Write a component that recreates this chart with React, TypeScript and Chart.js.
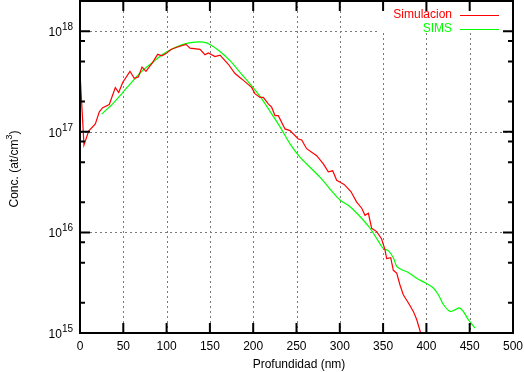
import React, { useEffect, useRef } from "react";
import { Chart, registerables } from "chart.js";

Chart.register(...registerables);

// Simulation profile (red)
const simDepth = [0, 4.6, 10, 17.7, 22.3, 26.2, 33.8, 40.8, 44.7, 49.3, 57.7, 62.7, 67.3, 71.6, 76.2, 83.9, 89.7, 94.7, 99.3, 105, 110.9, 115.5, 122.4, 127, 138.6, 144.3, 148.2, 155.9, 161.7, 171.3, 179, 186.7, 198.2, 202, 207.9, 211.7, 217.4, 221.3, 225.2, 229, 236.7, 242.5, 252.1, 256, 261.7, 273.3, 281, 286.7, 291.8, 296.4, 305, 312.8, 319.5, 325.3, 329.1, 333, 336.8, 342.6, 348.3, 352.2, 354.1, 358.8, 361.8, 365.7, 369.5, 373.3, 379.1, 384.9, 388.8, 393.4, 396];
const simConc = [3.9e17, 7.4e16, 1.02e17, 1.2e17, 1.58e17, 1.74e17, 1.87e17, 2.75e17, 2.46e17, 3.1e17, 4.0e17, 3.4e17, 3.5e17, 4.4e17, 4.0e17, 4.9e17, 5.9e17, 5.7e17, 6.0e17, 6.6e17, 6.9e17, 7.1e17, 7.4e17, 6.8e17, 6.6e17, 5.85e17, 6.1e17, 5.6e17, 5.8e17, 4.7e17, 3.8e17, 3.36e17, 2.77e17, 2.4e17, 2.2e17, 2.2e17, 1.9e17, 1.76e17, 1.45e17, 1.45e17, 1.07e17, 1.03e17, 8.5e16, 8.3e16, 6.8e16, 5.8e16, 4.8e16, 4.0e16, 4.1e16, 3.3e16, 3.0e16, 2.55e16, 2.0e16, 1.74e16, 1.48e16, 1.55e16, 1.1e16, 1.02e16, 8.6e15, 6.7e15, 5.5e15, 5.6e15, 4.2e15, 3.95e15, 3.0e15, 2.4e15, 2.0e15, 1.64e15, 1.36e15, 1.0e15, 8e14];

// SIMS profile (green)
const simsDepth = [25, 37.7, 49.3, 60.8, 72.4, 83.9, 95.5, 107, 121, 132.8, 142.4, 150, 161.7, 173.2, 184.8, 196.3, 207.9, 219.4, 231, 242.5, 254, 265.6, 277.1, 288.7, 300.2, 311.8, 323.3, 334.9, 344.5, 350.3, 356, 361.8, 365.7, 371.5, 379.1, 388.8, 400.3, 408, 413.8, 419.6, 427.3, 433, 438, 442.6, 448.4, 456.1];
const simsConc = [1.5e17, 1.9e17, 2.46e17, 3.2e17, 4.07e17, 4.9e17, 5.9e17, 6.7e17, 7.5e17, 7.8e17, 7.8e17, 7.4e17, 6.3e17, 5.1e17, 3.9e17, 3.0e17, 2.25e17, 1.6e17, 1.12e17, 7.6e16, 5.6e16, 4.45e16, 3.55e16, 2.7e16, 2.1e16, 1.8e16, 1.44e16, 1.1e16, 8.2e15, 6.9e15, 6.6e15, 5.6e15, 4.6e15, 4.25e15, 4.0e15, 3.5e15, 3.1e15, 2.8e15, 2.4e15, 1.92e15, 1.64e15, 1.7e15, 1.78e15, 1.64e15, 1.36e15, 1.12e15];

const xTicks = [0, 50, 100, 150, 200, 250, 300, 350, 400, 450, 500];
const yDecades = [15, 16, 17, 18];
const yMinorMult = [2, 5, 8];
const seriesNames = ["Simulacion", "SIMS"];
const seriesColors = ["#ff0000", "#00ff00"];
const xTitle = "Profundidad (nm)";
const yTitleMain = "Conc. (at/cm";
const yTitleSup = "3";
const yTitleEnd = ")";

const FONT = '"Liberation Sans", Arial, Helvetica, sans-serif';

const framePlugin = {
  id: "gnuplotFrame",
  beforeDatasetsDraw(chart: any) {
    const { ctx, chartArea: a, scales } = chart;
    const xs = scales.x, ys = scales.y;
    const legLeft = 383, legBottom = 33;
    ctx.save();
    ctx.strokeStyle = "#7a7a7a";
    ctx.lineWidth = 1;
    ctx.setLineDash([2, 3]);
    for (const t of xTicks) {
      if (t === xTicks[0] || t === xTicks[xTicks.length - 1]) continue;
      const px = Math.round(xs.getPixelForValue(t)) + 0.5;
      const top = px > legLeft ? legBottom : a.top;
      ctx.beginPath();
      ctx.moveTo(px, top);
      ctx.lineTo(px, a.bottom);
      ctx.stroke();
    }
    for (const d of yDecades) {
      if (d === yDecades[0]) continue;
      const py = Math.round(ys.getPixelForValue(Math.pow(10, d))) + 0.5;
      const right = py < legBottom ? legLeft - 3 : a.right;
      ctx.beginPath();
      ctx.moveTo(a.left, py);
      ctx.lineTo(right, py);
      ctx.stroke();
    }
    ctx.restore();
  },
  afterDatasetsDraw(chart: any) {
    const { ctx, chartArea: a, scales } = chart;
    const xs = scales.x, ys = scales.y;
    ctx.save();
    ctx.setLineDash([]);
    ctx.strokeStyle = "#000";
    ctx.lineWidth = 2;
    ctx.strokeRect(a.left, a.top, a.right - a.left, a.bottom - a.top);

    // x ticks (bottom and top, inward)
    for (const t of xTicks) {
      const px = xs.getPixelForValue(t);
      ctx.beginPath();
      ctx.moveTo(px, a.bottom);
      ctx.lineTo(px, a.bottom - 10);
      ctx.moveTo(px, a.top);
      ctx.lineTo(px, a.top + 10);
      ctx.stroke();
    }
    // y ticks
    for (const d of yDecades) {
      const py = ys.getPixelForValue(Math.pow(10, d));
      ctx.beginPath();
      ctx.moveTo(a.left, py);
      ctx.lineTo(a.left + 10, py);
      ctx.moveTo(a.right, py);
      ctx.lineTo(a.right - 10, py);
      ctx.stroke();
      for (const m of yMinorMult) {
        const v = m * Math.pow(10, d);
        if (v > ys.max) continue;
        const pm = ys.getPixelForValue(v);
        ctx.beginPath();
        ctx.moveTo(a.left, pm);
        ctx.lineTo(a.left + 5, pm);
        ctx.moveTo(a.right, pm);
        ctx.lineTo(a.right - 5, pm);
        ctx.stroke();
      }
    }

    ctx.fillStyle = "#000";
    // x tick labels
    ctx.font = "12px " + FONT;
    ctx.textAlign = "center";
    ctx.textBaseline = "middle";
    for (const t of xTicks) {
      ctx.fillText(String(t), xs.getPixelForValue(t), a.bottom + 14);
    }
    // y tick labels 10^n
    for (const d of yDecades) {
      const py = ys.getPixelForValue(Math.pow(10, d));
      ctx.font = "10px " + FONT;
      const sup = String(d);
      const sw = ctx.measureText(sup).width;
      ctx.font = "12px " + FONT;
      const bw = ctx.measureText("10").width;
      const right = a.left - 7;
      ctx.textAlign = "left";
      ctx.textBaseline = "alphabetic";
      ctx.fillText("10", right - sw - bw, py + 5);
      ctx.font = "10px " + FONT;
      ctx.fillText(sup, right - sw, py - 1);
    }
    // x title
    ctx.font = "12px " + FONT;
    ctx.textAlign = "center";
    ctx.textBaseline = "middle";
    ctx.fillText(xTitle, 299, a.bottom + 32);

    // y title rotated
    ctx.save();
    ctx.translate(14, 169);
    ctx.rotate(-Math.PI / 2);
    ctx.font = "12px " + FONT;
    const w1 = ctx.measureText(yTitleMain).width;
    const w3 = ctx.measureText(yTitleEnd).width;
    ctx.font = "9px " + FONT;
    const w2 = ctx.measureText(yTitleSup).width;
    let sx = -(w1 + w2 + w3) / 2;
    ctx.textAlign = "left";
    ctx.textBaseline = "alphabetic";
    ctx.font = "12px " + FONT;
    ctx.fillText(yTitleMain, sx, 4);
    sx += w1;
    ctx.font = "9px " + FONT;
    ctx.fillText(yTitleSup, sx, -2);
    sx += w2;
    ctx.font = "12px " + FONT;
    ctx.fillText(yTitleEnd, sx, 4);
    ctx.restore();

    // legend
    ctx.font = "12px " + FONT;
    ctx.textAlign = "right";
    ctx.textBaseline = "middle";
    seriesNames.forEach((name, i) => {
      const y = 15 + i * 14;
      ctx.fillStyle = seriesColors[i];
      ctx.fillText(name, 452, y);
      ctx.fillRect(460, y, 39, 1);
    });
    ctx.restore();
  },
};

export default function App() {
  const ref = useRef<HTMLCanvasElement | null>(null);
  useEffect(() => {
    document.body.style.margin = "0";
    const canvas = ref.current;
    if (!canvas) return;
    const chart = new Chart(canvas, {
      type: "line",
      data: {
        datasets: [
          {
            label: seriesNames[0],
            data: simDepth.map((x, i) => ({ x, y: simConc[i] })),
            borderColor: seriesColors[0],
            borderWidth: 1.2,
            pointRadius: 0,
            tension: 0,
          },
          {
            label: seriesNames[1],
            data: simsDepth.map((x, i) => ({ x, y: simsConc[i] })),
            borderColor: seriesColors[1],
            borderWidth: 1.2,
            pointRadius: 0,
            tension: 0.3,
          },
        ],
      },
      options: {
        responsive: false,
        animation: false,
        layout: { padding: { left: 80, right: 11, top: 1, bottom: 39 } },
        scales: {
          x: { type: "linear", min: 0, max: 500, display: false },
          y: { type: "logarithmic", min: 1e15, max: 2e18, display: false },
        },
        plugins: { legend: { display: false }, tooltip: { enabled: false } },
      },
      plugins: [framePlugin],
    });
    return () => chart.destroy();
  }, []);
  return (
    <div style={{ position: "absolute", left: 0, top: 0, width: 524, height: 372, background: "#fff" }}>
      <canvas ref={ref} width={524} height={372} />
    </div>
  );
}
